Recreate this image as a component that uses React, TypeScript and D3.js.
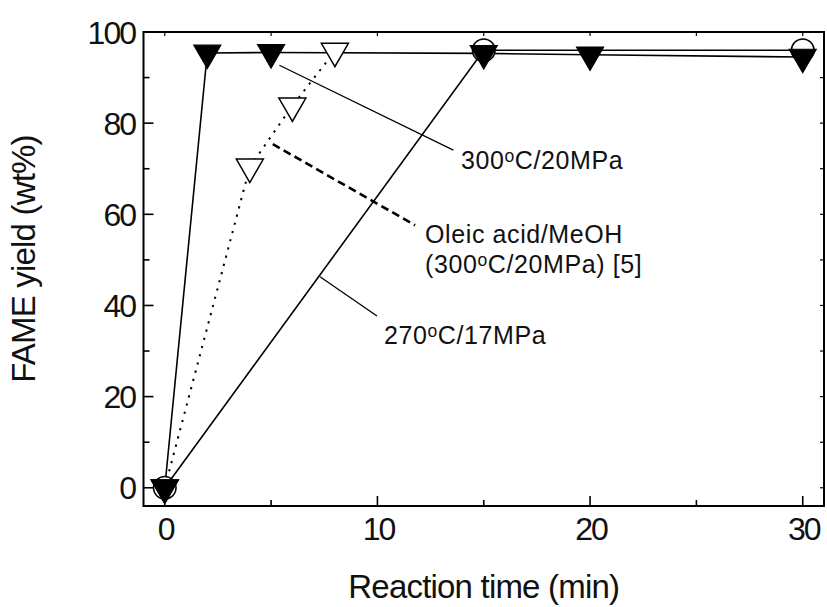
import React from 'react';
import * as d3 from 'd3';

// series
const TIME_300 = [0, 2, 5, 15, 20, 30];
const YIELD_300 = [0, 95.4, 95.5, 95.3, 95, 94.5];
const TIME_270 = [0, 15, 30];
const YIELD_270 = [0, 96, 96];
const TIME_OLEIC = [0, 4, 6, 8];
const YIELD_OLEIC = [0, 70.4, 83.8, 95.8];

const X_MAJOR = [0, 10, 20, 30];
const X_MINOR = [5, 15, 25];
const Y_MAJOR = [0, 20, 40, 60, 80, 100];
const Y_MINOR = [10, 30, 50, 70, 90];

// leader lines [x1, y1, x2, y2] in data units
const LEADER_300 = [5.39, 92.7, 13.57, 74.1];
const LEADER_OLEIC = [5.08, 75.4, 11.77, 57.6];
const LEADER_270 = [7.3, 46.3, 9.98, 37.7];

const W = 827;
const H = 607;
const FONT = '"Liberation Sans", Arial, sans-serif';
const INK = '#111';

const pts = (xs: number[], ys: number[]) => xs.map((x, i) => [x, ys[i]] as [number, number]);

function Degree({ pre, post }: { pre: string; post: string }) {
  return (
    <>
      {pre}
      <tspan fontSize="0.7em" dy={-7}>o</tspan>
      <tspan dy={7}>{post}</tspan>
    </>
  );
}

export default function App() {
  const x = d3.scaleLinear().domain([-1, 31]).range([143.5, 824]);
  const y = d3.scaleLinear().domain([-4, 100]).range([506, 32]);
  const line = d3.line<[number, number]>().x(d => x(d[0])).y(d => y(d[1]));

  const triSize = 316;
  const tri = d3.symbol().type(d3.symbolTriangle).size(triSize)() as string;

  const [x0, x1] = x.range();
  const [yb, yt] = y.range();

  const leader = (l: number[], props: any) => (
    <line x1={x(l[0])} y1={y(l[1])} x2={x(l[2])} y2={y(l[3])} stroke="#000" {...props} />
  );

  return (
    <svg width={W} height={H} style={{ position: 'absolute', left: 0, top: 0, background: '#fff' }}>
      {/* data lines */}
      <path d={line(pts(TIME_270, YIELD_270)) || ''} fill="none" stroke="#000" strokeWidth={1.6} />
      <path d={line(pts(TIME_300, YIELD_300)) || ''} fill="none" stroke="#000" strokeWidth={1.6} />
      <path d={line(pts(TIME_OLEIC, YIELD_OLEIC)) || ''} fill="none" stroke="#000" strokeWidth={2}
        strokeDasharray="2.2,6.3" />

      {/* leader lines */}
      {leader(LEADER_300, { strokeWidth: 1.3 })}
      {leader(LEADER_270, { strokeWidth: 1.3 })}
      {leader(LEADER_OLEIC, { strokeWidth: 2.6, strokeDasharray: '8,4.5' })}

      {/* markers */}
      {pts(TIME_270, YIELD_270).map((d, i) => (
        <circle key={'c' + i} cx={x(d[0])} cy={y(d[1])} r={11.3} fill="#fff" stroke="#000" strokeWidth={1.5} />
      ))}
      {pts(TIME_OLEIC, YIELD_OLEIC).map((d, i) => (
        <path key={'o' + i} d={tri} transform={`translate(${x(d[0])},${y(d[1])}) rotate(180)`}
          fill="#fff" stroke="#000" strokeWidth={1.5} />
      ))}
      {pts(TIME_300, YIELD_300).map((d, i) => (
        <path key={'f' + i} d={tri} transform={`translate(${x(d[0])},${y(d[1])}) rotate(180)`}
          fill="#000" stroke="#000" strokeWidth={1.2} />
      ))}

      {/* frame + ticks */}
      <rect x={x0} y={yt} width={x1 - x0} height={yb - yt} fill="none" stroke="#000" strokeWidth={2} />
      {X_MAJOR.concat(X_MINOR).map(v => {
        const len = X_MAJOR.includes(v) ? 10 : 6;
        return (
          <g key={'xt' + v}>
            <line x1={x(v)} x2={x(v)} y1={yb} y2={yb - len} stroke="#000" strokeWidth={1.6} />
            <line x1={x(v)} x2={x(v)} y1={yt} y2={yt + 4} stroke="#000" strokeWidth={1.2} />
          </g>
        );
      })}
      {Y_MAJOR.concat(Y_MINOR).map(v => {
        const len = Y_MAJOR.includes(v) ? 10 : 6;
        return (
          <g key={'yt' + v}>
            <line x1={x0} x2={x0 + len} y1={y(v)} y2={y(v)} stroke="#000" strokeWidth={1.6} />
            <line x1={x1} x2={x1 - 4} y1={y(v)} y2={y(v)} stroke="#000" strokeWidth={1.2} />
          </g>
        );
      })}

      {/* tick labels */}
      <g fontFamily={FONT} fontSize={32} fill={INK} letterSpacing={-2}>
        {X_MAJOR.map(v => (
          <text key={'xl' + v} x={x(v) + 1} y={539.5} textAnchor="middle">{v}</text>
        ))}
        {Y_MAJOR.map(v => (
          <text key={'yl' + v} x={135} y={y(v) + 11.5} textAnchor="end">{v}</text>
        ))}
      </g>

      {/* axis titles */}
      <text x={(x0 + x1) / 2} y={598} textAnchor="middle" fontFamily={FONT} fontSize={33} fill={INK}
        letterSpacing={-0.8}>
        Reaction time (min)
      </text>
      <text transform="translate(35,259) rotate(-90)" textAnchor="middle" fontFamily={FONT} fontSize={33}
        fill={INK} letterSpacing={-0.8}>
        FAME yield (wt%)
      </text>

      {/* annotations */}
      <g fontFamily={FONT} fontSize={25} fill={INK} letterSpacing={0.6}>
        <text x={x(13.93)} y={y(69.94)}><Degree pre="300" post="C/20MPa" /></text>
        <text x={x(12.24)} y={y(53.7)}>Oleic acid/MeOH</text>
        <text x={x(12.24)} y={y(47.12)}><Degree pre="(300" post="C/20MPa) [5]" /></text>
        <text x={x(10.31)} y={y(31.54)}><Degree pre="270" post="C/17MPa" /></text>
      </g>
    </svg>
  );
}
